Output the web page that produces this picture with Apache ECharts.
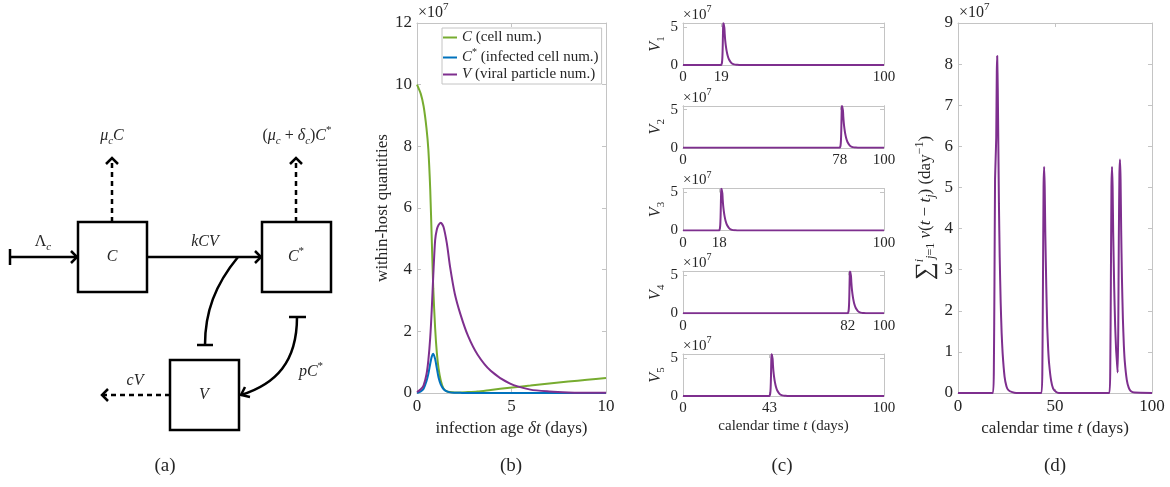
<!DOCTYPE html>
<html><head><meta charset="utf-8">
<script src="https://cdn.jsdelivr.net/npm/echarts@6/dist/echarts.min.js"></script>
<style>html,body{margin:0;padding:0;background:#fff}#main{width:1170px;height:487px}</style>
</head><body><div id="main"></div>
<script>
// ---- data (values in units of 1e7) ----
const ageDays      = [0, 0.2, 0.35, 0.5, 0.6, 0.7, 0.78, 0.86, 0.96, 1.05, 1.14, 1.26, 1.4, 1.58, 1.75, 2.0, 2.3, 2.7, 3.2, 3.9, 4.9, 6, 7, 8, 9, 10];
const cellNum      = [10, 9.7, 9.3, 8.6, 7.9, 6.6, 5.0, 3.4, 2.1, 1.3, 0.8, 0.4, 0.15, 0.05, 0.03, 0.02, 0.02, 0.03, 0.05, 0.1, 0.17, 0.24, 0.31, 0.37, 0.43, 0.49];
const infectedNum  = [0, 0.05, 0.14, 0.38, 0.62, 0.95, 1.18, 1.27, 1.1, 0.8, 0.5, 0.27, 0.13, 0.05, 0.02, 0.01, 0.005, 0, 0, 0, 0, 0, 0, 0, 0, 0];
const viralNum     = [0.03, 0.12, 0.25, 0.6, 1.06, 1.8, 2.7, 3.8, 4.96, 5.3, 5.45, 5.52, 5.39, 4.85, 4.09, 3.22, 2.55, 1.85, 1.25, 0.72, 0.31, 0.11, 0.05, 0.02, 0.01, 0.005];
const infectionDays = [19, 78, 18, 82, 43];
const sumTime  = [0, 18, 18.5, 18.8, 19.1, 19.4, 19.7, 20.0, 20.2, 20.5, 20.8, 21.1, 21.5, 22, 22.5, 23, 24, 25, 26, 28, 30, 43, 43.5, 43.8, 44.1, 44.4, 44.7, 45, 45.5, 46, 46.5, 47, 48, 49, 50, 52, 78, 78.5, 78.8, 79.1, 79.4, 79.7, 80, 80.5, 81, 81.5, 82, 82.3, 82.6, 82.9, 83.2, 83.5, 83.8, 84.1, 84.5, 85, 85.5, 86, 87, 88, 89, 91, 100];
const sumViral = [0, 0, 0.7, 2.7, 5.2, 5.7, 6.2, 7.8, 8.2, 7.4, 6.0, 4.6, 3.3, 2.2, 1.45, 0.97, 0.4, 0.16, 0.07, 0.02, 0, 0, 0.7, 2.7, 5.0, 5.5, 5.0, 3.9, 2.6, 1.6, 1.05, 0.7, 0.3, 0.11, 0.05, 0, 0, 0.7, 2.7, 5.0, 5.5, 5.0, 3.9, 2.6, 1.65, 1.05, 0.7, 0.5, 1.5, 3.8, 5.3, 5.68, 5.2, 4.0, 2.8, 1.8, 1.15, 0.75, 0.32, 0.13, 0.05, 0.01, 0];
const panelLabels = ['(a)', '(b)', '(c)', '(d)'];

// ---- styling ----
const F = "'Liberation Serif','DejaVu Serif',serif";
const TXT = '#262626', AX = '#c4c4c4';
const GREEN = '#77AC30', BLUE = '#0072BD', PURPLE = '#7E2F8E';

function rich(fs, color) {
  const c = color || TXT;
  const s = Math.round(fs * 0.68);
  return {
    n: {fontFamily: F, fontSize: fs, color: c, lineHeight: fs + 6},
    i: {fontFamily: F, fontSize: fs, fontStyle: 'italic', color: c, lineHeight: fs + 6},
    sub: {fontFamily: F, fontSize: s, color: c, verticalAlign: 'bottom', lineHeight: s},
    isub: {fontFamily: F, fontSize: s, fontStyle: 'italic', color: c, verticalAlign: 'bottom', lineHeight: s},
    sup: {fontFamily: F, fontSize: s, color: c, verticalAlign: 'top', lineHeight: s},
    isup: {fontFamily: F, fontSize: s, fontStyle: 'italic', color: c, verticalAlign: 'top', lineHeight: s},
    big: {fontFamily: F, fontSize: Math.round(fs * 1.45), color: c, lineHeight: fs + 6}
  };
}
function grich(fs) { // zrender graphic rich uses fill
  const r = rich(fs);
  Object.keys(r).forEach(k => { r[k].fill = r[k].color; delete r[k].color; });
  return r;
}

const grids = [], xAxes = [], yAxes = [], series = [];
function addGrid(g, box, xo, yo) {
  grids.push(Object.assign({containLabel: false}, box));
  const common = (o) => ({
    axisLine: {show: true, onZero: false, lineStyle: {color: AX, width: 1}},
    axisTick: {show: true, inside: true, length: 4, lineStyle: {color: AX}, customValues: o.custom},
    splitLine: {show: false}
  });
  xAxes.push(Object.assign({
    gridIndex: g, type: 'value', min: xo.min, max: xo.max, interval: xo.interval, position: 'bottom',
    axisLabel: {color: TXT, fontFamily: F, fontSize: xo.fs, margin: 5, customValues: xo.custom, hideOverlap: false},
    name: xo.name || '', nameLocation: 'middle', nameGap: xo.nameGap || 20,
    nameTextStyle: {fontFamily: F, fontSize: xo.nfs || 16, color: TXT, rich: rich(xo.nfs || 16)}
  }, common(xo)));
  xAxes.push(Object.assign({
    gridIndex: g, type: 'value', min: xo.min, max: xo.max, interval: xo.interval, position: 'top',
    axisLabel: {show: false}
  }, common(xo)));
  yAxes.push(Object.assign({
    gridIndex: g, type: 'value', min: yo.min, max: yo.max, interval: yo.interval, position: 'left',
    axisLabel: {color: TXT, fontFamily: F, fontSize: yo.fs, margin: 5, customValues: yo.custom, hideOverlap: false},
    name: yo.name || '', nameLocation: 'middle', nameGap: yo.nameGap || 20, nameRotate: 90,
    nameTextStyle: {fontFamily: F, fontSize: yo.nfs || 16, color: TXT, rich: rich(yo.nfs || 16)}
  }, common(yo)));
  yAxes.push(Object.assign({
    gridIndex: g, type: 'value', min: yo.min, max: yo.max, interval: yo.interval, position: 'right',
    axisLabel: {show: false}
  }, common(yo)));
}

// (b)
addGrid(0, {left: 417, top: 23, width: 189, height: 370},
  {min: 0, max: 10, interval: 5, fs: 17, name: 'infection age {i|δt} (days)', nameGap: 23, nfs: 17},
  {min: 0, max: 12, interval: 2, fs: 17, name: 'within-host quantities', nameGap: 24, nfs: 17});
const pairs = (ys) => ageDays.map((a, k) => [a, ys[k]]);
const lineS = (name, data, color, g) => ({
  name, type: 'line', data, xAxisIndex: 2 * g, yAxisIndex: 2 * g, symbol: 'none', showSymbol: false,
  smooth: 0.25, lineStyle: {color, width: 2}, itemStyle: {color}, animation: false, clip: true, z: 3
});
series.push(lineS('C (cell num.)', pairs(cellNum), GREEN, 0));
series.push(lineS('C* (infected cell num.)', pairs(infectedNum), BLUE, 0));
series.push(lineS('V (viral particle num.)', pairs(viralNum), PURPLE, 0));

// (c)
infectionDays.forEach((d, j) => {
  const g = j + 1;
  const last = j === infectionDays.length - 1;
  addGrid(g, {left: 683, top: 23 + 82.75 * j, width: 201, height: 42},
    {min: 0, max: 100, custom: [0, d, 100], fs: 15, name: last ? 'calendar time {i|t} (days)' : '', nameGap: 20, nfs: 15},
    {min: 0, max: 5.5, custom: [0, 5], fs: 15, name: '{i|V}{sub|' + (j + 1) + '}', nameGap: 12, nfs: 16});
  const data = [[0, 0], [d, 0]].concat(ageDays.map((a, k) => [d + a, viralNum[k]])).concat([[100, 0]]);
  series.push(Object.assign(lineS('V' + (j + 1), data, PURPLE, g), {smooth: 0.2}));
});

// (d)
addGrid(6, {left: 958, top: 23, width: 194, height: 370},
  {min: 0, max: 100, interval: 50, fs: 17, name: 'calendar time {i|t} (days)', nameGap: 23, nfs: 17},
  {min: 0, max: 9, interval: 1, fs: 17, name: '{big|∑}{isup|i}{isub|j}{sub|=1} {i|v}{n|(}{i|t}{n| − }{i|t}{isub|j}{n|) (day}{sup|−1}{n|)}', nameGap: 21, nfs: 17});
series.push(Object.assign(lineS('sum', sumTime.map((t, k) => [t, sumViral[k]]), PURPLE, 6), {smooth: 0.15}));

// ---- diagram (a) and labels ----
const gr = [];
const LW = 2.5;
function ln(x1, y1, x2, y2, dash) { gr.push({type: 'line', shape: {x1, y1, x2, y2}, style: {stroke: '#000', lineWidth: LW, lineDash: dash ? [5, 4] : null}}); }
function poly(points) { gr.push({type: 'polyline', shape: {points}, style: {stroke: '#000', lineWidth: LW, fill: null}}); }
function box(x, y) { gr.push({type: 'rect', shape: {x, y, width: 69, height: 70}, style: {fill: '#fff', stroke: '#000', lineWidth: LW}}); }
function txt(x, y, text, fs, align) {
  gr.push({type: 'text', x, y, style: {text, fontFamily: F, fontSize: fs, fill: TXT, align: align || 'center', verticalAlign: 'middle', rich: grich(fs)}});
}
box(78, 222); box(262, 222); box(170, 360);
txt(112, 257, '{i|C}', 16); txt(296, 257, '{i|C}{sup|*}', 16); txt(204, 395, '{i|V}', 16);
// Lambda_c inflow
ln(10, 249, 10, 265); ln(10, 257, 77, 257); poly([[71, 251], [77, 257], [71, 263]]);
txt(43, 242, '{n|Λ}{isub|c}', 16);
// kCV
ln(147, 257, 261, 257); poly([[255, 251], [261, 257], [255, 263]]);
txt(205, 242, '{i|kCV}', 16);
// mu_c C
ln(112, 222, 112, 159, true); poly([[106, 164], [112, 158], [118, 164]]);
txt(112, 136, '{i|μ}{isub|c}{i|C}', 16);
// (mu_c + delta_c) C*
ln(296, 222, 296, 159, true); poly([[290, 164], [296, 158], [302, 164]]);
txt(297, 136, '{n|(}{i|μ}{isub|c}{n| + }{i|δ}{isub|c}{n|)}{i|C}{sup|*}', 16);
// cV
ln(170, 395, 103, 395, true); poly([[108, 389], [102, 395], [108, 401]]);
txt(135, 381, '{i|cV}', 16);
// V inhibits infection
gr.push({type: 'bezierCurve', shape: {x1: 238, y1: 257, x2: 205, y2: 345, cpx1: 215, cpy1: 285, cpx2: 205, cpy2: 312}, style: {stroke: '#000', lineWidth: LW, fill: null}});
ln(197, 345, 213, 345);
// pC*
ln(289, 317, 306, 317);
gr.push({type: 'bezierCurve', shape: {x1: 297, y1: 317, x2: 241, y2: 395, cpx1: 297, cpy1: 362, cpx2: 276, cpy2: 384}, style: {stroke: '#000', lineWidth: LW, fill: null}});
poly([[245, 387], [241, 395], [250, 397]]);
txt(311, 372, '{i|pC}{sup|*}', 16);
// x10^7 labels
txt(418, 13, '{n|×10}{sup|7}', 16, 'left');
infectionDays.forEach((d, j) => txt(683, 15 + 82.75 * j, '{n|×10}{sup|7}', 15, 'left'));
txt(959, 13, '{n|×10}{sup|7}', 16, 'left');
// panel labels
[165, 511, 782, 1055].forEach((x, k) => txt(x, 466, '{n|' + panelLabels[k] + '}', 19));

const chart = echarts.init(document.getElementById('main'), null, {renderer: 'canvas'});
chart.setOption({
  backgroundColor: '#fff',
  animation: false,
  grid: grids, xAxis: xAxes, yAxis: yAxes, series,
  legend: {
    data: [
      {name: 'C (cell num.)', icon: 'rect'},
      {name: 'C* (infected cell num.)', icon: 'rect'},
      {name: 'V (viral particle num.)', icon: 'rect'}
    ],
    orient: 'vertical', left: 442, top: 28, itemWidth: 14, itemHeight: 2, itemGap: 2,
    padding: [2, 3, 2, 1], backgroundColor: '#fff', borderColor: AX, borderWidth: 1,
    textStyle: {fontFamily: F, fontSize: 15, color: TXT, rich: rich(15)},
    formatter: (name) => name.replace(/^C\* /, '{i|C}{sup|*}{n| ').replace(/^C /, '{i|C}{n| ').replace(/^V /, '{i|V}{n| ') + '}'
  },
  graphic: gr
});
</script></body></html>
